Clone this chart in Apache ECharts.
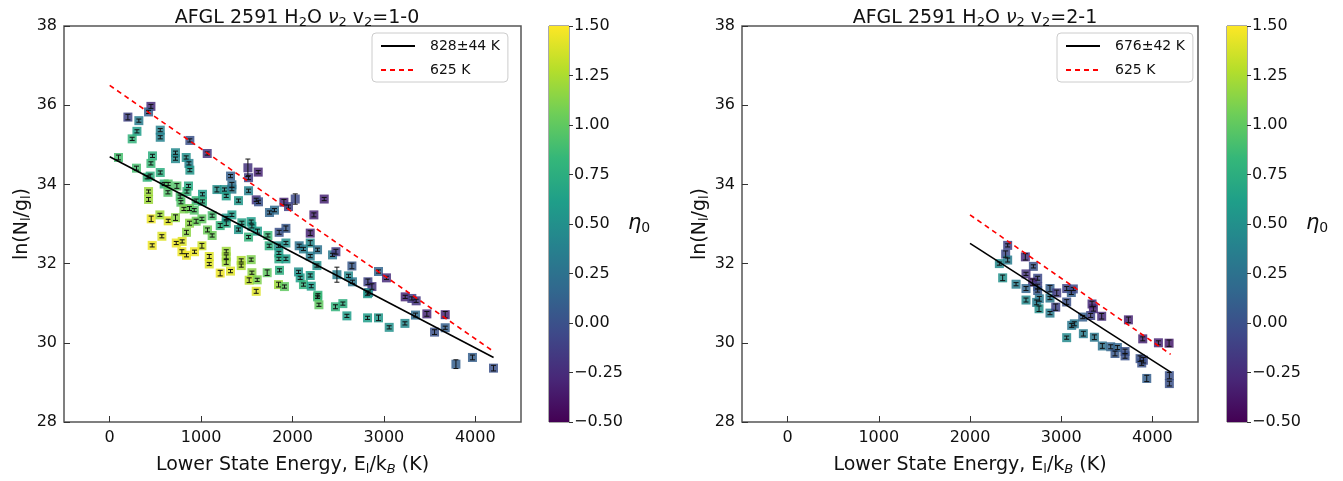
<!DOCTYPE html>
<html>
<head>
<meta charset="utf-8">
<script src="https://cdn.jsdelivr.net/npm/echarts@6/dist/echarts.min.js"></script>
<style>
  html, body { margin: 0; padding: 0; background: #fff; }
  #chart { width: 1343px; height: 481px; }
</style>
</head>
<body>
<div id="chart"></div>
<script>
// points: [E_l/k_B (K), ln(N/g), eta0, error]
var leftPoints = [
  [451, 35.97, -0.25, 0.05], [425, 35.83, 0.10, 0.04], [199, 35.70, -0.10, 0.07], [319, 35.61, 0.35, 0.04],
  [298, 35.34, 0.60, 0.04], [246, 35.15, 0.80, 0.04], [553, 35.37, 0.40, 0.04], [553, 35.19, 0.40, 0.04],
  [877, 35.11, 0.00, 0.04], [1067, 34.78, -0.20, 0.04], [1322, 34.21, 0.10, 0.04], [96, 34.68, 0.90, 0.06],
  [468, 34.72, 0.75, 0.04], [451, 34.53, 0.85, 0.04], [553, 34.30, 0.75, 0.04], [293, 34.41, 0.90, 0.05],
  [410, 34.18, 0.80, 0.04], [443, 34.21, 0.75, 0.05], [720, 34.80, 0.45, 0.04], [720, 34.65, 0.45, 0.04],
  [837, 34.68, 0.50, 0.04], [867, 34.53, 0.40, 0.04], [877, 34.36, 0.55, 0.04], [596, 34.01, 0.80, 0.04],
  [640, 34.01, 0.95, 0.04], [637, 33.80, 0.95, 0.04], [735, 33.96, 0.95, 0.06], [862, 33.96, 0.70, 0.04],
  [845, 33.82, 0.80, 0.04], [771, 33.69, 0.90, 0.04], [779, 33.55, 0.95, 0.04], [1015, 33.75, 0.60, 0.04],
  [946, 33.59, 0.85, 0.04], [1015, 33.57, 0.75, 0.04], [1173, 33.87, 0.50, 0.06], [1256, 33.87, 0.50, 0.04],
  [1337, 33.99, 0.20, 0.06], [425, 33.82, 1.20, 0.04], [425, 33.62, 1.20, 0.05], [812, 33.38, 1.10, 0.04],
  [873, 33.39, 1.05, 0.05], [925, 33.35, 0.95, 0.04], [1121, 33.21, 0.90, 0.04], [1337, 33.23, 0.60, 0.04],
  [454, 33.13, 1.45, 0.07], [549, 33.23, 1.20, 0.04], [640, 33.08, 1.40, 0.04], [720, 33.16, 1.15, 0.07],
  [873, 33.02, 1.15, 0.05], [946, 33.07, 1.05, 0.05], [1009, 33.13, 1.00, 0.04], [840, 32.79, 1.15, 0.05],
  [1070, 32.85, 1.05, 0.05], [1121, 32.71, 1.05, 0.04], [571, 32.69, 1.40, 0.04], [465, 32.46, 1.45, 0.04],
  [728, 32.52, 1.45, 0.04], [793, 32.56, 1.40, 0.04], [1009, 32.45, 1.35, 0.06], [790, 32.30, 1.45, 0.05],
  [840, 32.21, 1.45, 0.04], [928, 32.30, 1.45, 0.04], [1089, 32.18, 1.40, 0.05], [1089, 31.99, 1.40, 0.04],
  [1275, 32.31, 1.20, 0.04], [1275, 32.17, 1.20, 0.05], [1275, 32.04, 1.20, 0.06], [1209, 31.76, 1.45, 0.07],
  [1322, 31.81, 1.40, 0.04], [1209, 32.96, 0.80, 0.05], [1275, 33.02, 0.70, 0.06], [1275, 33.15, 0.55, 0.04],
  [1512, 34.42, -0.20, 0.22], [1519, 34.17, -0.15, 0.05], [1625, 34.31, -0.30, 0.04], [1337, 33.88, 0.30, 0.04],
  [1275, 33.71, 0.60, 0.04], [1409, 33.59, 0.55, 0.04], [1519, 33.84, 0.40, 0.04], [1603, 33.61, -0.20, 0.04],
  [1628, 33.56, 0.00, 0.04], [1748, 33.29, 0.15, 0.04], [1803, 33.35, 0.20, 0.04], [1906, 33.55, -0.30, 0.07],
  [1956, 33.44, -0.10, 0.04], [2030, 33.63, -0.05, 0.13], [2347, 33.63, -0.30, 0.04], [2234, 33.23, -0.30, 0.05],
  [1446, 33.03, 0.65, 0.04], [1548, 33.06, 0.60, 0.04], [1556, 32.94, 0.60, 0.04], [1409, 32.86, 0.55, 0.04],
  [1519, 32.67, 0.80, 0.04], [1617, 32.82, 0.60, 0.05], [1731, 32.71, 0.85, 0.04], [1745, 32.45, 0.75, 0.04],
  [1854, 32.79, 0.00, 0.05], [1928, 32.89, 0.05, 0.06], [2194, 32.77, -0.30, 0.06], [1847, 32.45, 0.50, 0.04],
  [1928, 32.52, 0.50, 0.04], [2073, 32.45, 0.25, 0.04], [2120, 32.37, 0.35, 0.04], [2194, 32.52, 0.45, 0.06],
  [2274, 32.35, 0.25, 0.04], [2194, 32.19, 0.35, 0.04], [2438, 32.22, 0.30, 0.04], [2475, 32.30, -0.15, 0.06],
  [1851, 32.27, 0.60, 0.04], [1851, 32.12, 0.70, 0.04], [1928, 32.12, 0.60, 0.04], [2267, 31.95, 0.50, 0.04],
  [2066, 31.79, 0.50, 0.04], [2084, 31.64, 0.60, 0.04], [2194, 31.70, 0.60, 0.04], [2120, 31.47, 0.80, 0.04],
  [2205, 31.43, 0.60, 0.04], [2278, 31.20, 0.80, 0.04], [2486, 31.72, 0.35, 0.19], [2613, 31.69, 0.45, 0.04],
  [2656, 31.54, 0.30, 0.04], [2650, 31.94, 0.05, 0.07], [2825, 31.54, -0.10, 0.07], [2869, 31.42, -0.20, 0.07],
  [2832, 31.27, 0.30, 0.04], [1439, 32.08, 1.25, 0.04], [1439, 31.95, 1.25, 0.04], [1548, 32.10, 1.10, 0.04],
  [1556, 31.77, 1.15, 0.04], [1526, 31.58, 1.30, 0.06], [1614, 31.59, 1.10, 0.04], [1603, 31.30, 1.40, 0.05],
  [1723, 31.77, 1.00, 0.07], [1847, 31.47, 1.20, 0.06], [1912, 31.42, 1.00, 0.04], [2274, 31.16, 0.85, 0.04],
  [2289, 30.96, 1.00, 0.04], [2470, 30.91, 0.80, 0.05], [2551, 30.99, 0.75, 0.04], [2595, 30.68, 0.60, 0.04],
  [2941, 31.80, 0.15, 0.04], [3028, 31.64, -0.25, 0.04], [3233, 31.16, -0.30, 0.04], [3306, 31.12, -0.15, 0.04],
  [3353, 31.06, -0.20, 0.04], [3346, 30.70, 0.20, 0.05], [3470, 30.73, -0.30, 0.06], [3671, 30.71, -0.30, 0.08],
  [3671, 30.38, 0.10, 0.04], [3554, 30.27, 0.00, 0.06], [2821, 30.63, 0.60, 0.04], [2941, 30.63, 0.55, 0.07],
  [3058, 30.39, 0.50, 0.04], [3230, 30.49, 0.45, 0.04], [3788, 29.46, 0.10, 0.11], [3969, 29.63, 0.10, 0.06],
  [4199, 29.36, 0.00, 0.07], [2821, 31.24, 0.55, 0.04], [1858, 31.83, 0.75, 0.04]
];
var rightPoints = [
  [2413, 32.46, -0.10, 0.04], [2391, 32.24, -0.05, 0.08], [2413, 32.09, 0.35, 0.05], [2322, 32.00, 0.45, 0.04],
  [2607, 32.17, -0.25, 0.08], [2695, 31.93, 0.00, 0.04], [2358, 31.64, 0.50, 0.07], [2614, 31.74, -0.20, 0.04],
  [2742, 31.63, -0.05, 0.05], [2505, 31.48, 0.35, 0.04], [2687, 31.53, -0.30, 0.08], [2742, 31.42, -0.10, 0.06],
  [2742, 31.32, 0.05, 0.04], [2614, 31.37, 0.15, 0.05], [2877, 31.37, 0.10, 0.08], [2877, 31.13, 0.30, 0.04],
  [2951, 31.26, -0.15, 0.07], [3060, 31.37, -0.10, 0.05], [3111, 31.27, 0.10, 0.05], [3133, 31.36, -0.05, 0.04],
  [2614, 31.08, 0.45, 0.05], [2760, 31.11, 0.30, 0.06], [2731, 31.02, 0.35, 0.06], [2757, 30.86, 0.50, 0.07],
  [2877, 30.75, 0.35, 0.04], [2940, 30.90, -0.10, 0.08], [3060, 31.03, 0.00, 0.06], [3338, 30.98, -0.25, 0.07],
  [3353, 30.86, -0.30, 0.06], [3323, 30.69, -0.10, 0.05], [3444, 30.67, -0.25, 0.07], [3236, 30.65, 0.10, 0.04],
  [3115, 30.44, 0.30, 0.05], [3144, 30.48, 0.30, 0.05], [3060, 30.13, 0.45, 0.04], [3243, 30.23, 0.35, 0.06],
  [3364, 30.14, 0.30, 0.06], [3737, 30.58, -0.30, 0.07], [3451, 29.92, 0.25, 0.06], [3543, 29.90, 0.15, 0.05],
  [3616, 29.88, 0.15, 0.05], [3590, 29.73, 0.05, 0.06], [3700, 29.78, 0.00, 0.06], [3700, 29.67, 0.00, 0.06],
  [3894, 30.10, -0.30, 0.05], [4066, 30.00, -0.30, 0.05], [4183, 29.99, -0.35, 0.08], [3865, 29.60, 0.00, 0.07],
  [3901, 29.56, -0.05, 0.07], [3883, 29.49, 0.00, 0.06], [3938, 29.10, 0.10, 0.08], [4186, 29.17, 0.00, 0.08],
  [4186, 28.97, 0.00, 0.06]
];

// fitted / reference lines: [E, ln(N/g)]
var leftFit = [[0, 34.70], [4200, 29.63]];
var leftRef = [[0, 36.50], [4200, 29.78]];
var rightFit = [[2000, 32.51], [4200, 29.26]];
var rightRef = [[2000, 33.23], [4200, 29.71]];

var leftFitName = '828\u00b144 K';
var rightFitName = '676\u00b142 K';
var refName = '625 K';

var xTicks = [0, 1000, 2000, 3000, 4000];
var viridis = ['#440154', '#482878', '#3e4989', '#31688e', '#26828e',
               '#1f9e89', '#35b779', '#6ece58', '#b5de2b', '#fde725'];

var FONT = 'DejaVu Sans';
var frameColor = '#555';

var chart = echarts.init(document.getElementById('chart'));

var subRich = {
  s: { fontSize: 13, fontFamily: FONT, color: '#111', padding: [9, 0, 0, 0] },
  si: { fontSize: 13, fontFamily: FONT, fontStyle: 'italic', color: '#111', padding: [9, 0, 0, 0] },
  i: { fontSize: 19, fontFamily: FONT, fontStyle: 'italic', color: '#111' },
  n: { fontSize: 19, fontFamily: FONT, color: '#111' }
};

function plotX(idx) {
  return {
    gridIndex: idx, type: 'value', min: -500, max: 4500,
    name: 'Lower State Energy, E{s|l}/k{si|B} (K)',
    nameLocation: 'middle', nameGap: 32,
    nameTextStyle: { fontSize: 19, fontFamily: FONT, color: '#111', rich: subRich },
    axisLine: { show: false, onZero: false },
    axisTick: { inside: true, length: 6, customValues: xTicks, lineStyle: { color: '#333' } },
    axisLabel: {
      customValues: xTicks, fontSize: 16, fontFamily: FONT, color: '#111', margin: 8,
      formatter: function (v) { return String(v); }
    },
    splitLine: { show: false }
  };
}
function plotY(idx) {
  return {
    gridIndex: idx, type: 'value', min: 28, max: 38, interval: 2,
    name: 'ln(N{s|l}/g{s|l})', nameLocation: 'middle', nameGap: 31,
    nameTextStyle: { fontSize: 19, fontFamily: FONT, color: '#111', rich: subRich },
    axisLine: { show: false, onZero: false },
    axisTick: { inside: true, length: 6, lineStyle: { color: '#333' } },
    axisLabel: { fontSize: 16, fontFamily: FONT, color: '#111', margin: 7 },
    splitLine: { show: false }
  };
}
function barX(idx) {
  return { gridIndex: idx, type: 'value', min: 0, max: 1, show: false };
}
function barY(idx) {
  return {
    gridIndex: idx, type: 'value', min: -0.5, max: 1.5, interval: 0.25, position: 'right',
    name: '{i|\u03b7}{s|0}', nameLocation: 'middle', nameGap: 41, nameRotate: 0,
    nameTextStyle: { fontSize: 20, fontFamily: FONT, color: '#111', align: 'left', rich: {
      i: { fontSize: 21, fontFamily: FONT, fontStyle: 'italic', color: '#111' },
      s: { fontSize: 14, fontFamily: FONT, color: '#111', padding: [9, 0, 0, 0] }
    } },
    axisLine: { show: false, onZero: false },
    axisTick: { show: true, length: 4, lineStyle: { color: '#333' } },
    axisLabel: {
      fontSize: 16, fontFamily: FONT, color: '#111', margin: 5,
      formatter: function (v) { return v.toFixed(2).replace('-', '\u2212'); }
    },
    splitLine: { show: false }
  };
}

function errRender(params, api) {
  var x = api.value(0), y = api.value(1), e = api.value(3);
  var lo = api.coord([x, y - e]), hi = api.coord([x, y + e]);
  var st = { stroke: '#111', lineWidth: 1 };
  return {
    type: 'group',
    children: [
      { type: 'line', shape: { x1: lo[0], y1: lo[1], x2: hi[0], y2: hi[1] }, style: st },
      { type: 'line', shape: { x1: lo[0] - 2.5, y1: lo[1], x2: lo[0] + 2.5, y2: lo[1] }, style: st },
      { type: 'line', shape: { x1: hi[0] - 2.5, y1: hi[1], x2: hi[0] + 2.5, y2: hi[1] }, style: st }
    ]
  };
}

function barRender(params, api) {
  var p0 = api.coord([0, 1.5]), p1 = api.coord([1, -0.5]);
  var stops = viridis.map(function (c, i) { return { offset: i / (viridis.length - 1), color: c }; });
  return {
    type: 'rect',
    shape: { x: p0[0], y: p0[1], width: p1[0] - p0[0], height: p1[1] - p0[1] },
    style: { fill: new echarts.graphic.LinearGradient(0, 1, 0, 0, stops) }
  };
}

function scatterSeries(idx, pts) {
  return {
    type: 'scatter', xAxisIndex: idx, yAxisIndex: idx, data: pts,
    symbol: 'rect', symbolSize: 9, z: 2,
    itemStyle: { opacity: 0.85 }
  };
}
function errSeries(idx, pts) {
  return {
    type: 'custom', xAxisIndex: idx, yAxisIndex: idx, data: pts,
    renderItem: errRender, z: 3, silent: true
  };
}
function lineSeries(idx, name, pts, color, type) {
  return {
    type: 'line', name: name, xAxisIndex: idx, yAxisIndex: idx, data: pts,
    symbol: 'none', z: 4, silent: true,
    lineStyle: { color: color, width: 1.6, type: type }, itemStyle: { color: color }
  };
}
function cbarSeries(idx) {
  return {
    type: 'custom', xAxisIndex: idx, yAxisIndex: idx, data: [[0]],
    renderItem: barRender, silent: true
  };
}

function legendFor(left, names) {
  return {
    left: left, top: 33, orient: 'vertical', data: names,
    itemWidth: 34, itemHeight: 14, itemGap: 10,
    padding: [6, 8, 5, 8],
    borderColor: '#ccc', borderWidth: 1, borderRadius: 4,
    backgroundColor: 'rgba(255,255,255,0.85)',
    itemStyle: { opacity: 0 },
    textStyle: { fontSize: 14, fontFamily: FONT, color: '#111', padding: [0, 20, 0, 10] }
  };
}

function titleFor(x, text) {
  return {
    left: x, top: 2, textAlign: 'center',
    text: text,
    textStyle: { fontSize: 19, fontFamily: FONT, fontWeight: 'normal', color: '#111', rich: subRich }
  };
}

chart.setOption({
  animation: false,
  backgroundColor: '#fff',
  title: [
    titleFor(292, '{n|AFGL 2591 H}{s|2}{n|O }{i|\u03bd}{s|2}{n| v}{s|2}{n|=1-0}'),
    titleFor(970, '{n|AFGL 2591 H}{s|2}{n|O }{i|\u03bd}{s|2}{n| v}{s|2}{n|=2-1}')
  ],
  legend: [
    legendFor(372, [leftFitName, refName]),
    legendFor(1057, [rightFitName, refName])
  ],
  grid: [
    { left: 64, top: 26, width: 457, height: 396, show: true, borderColor: frameColor, borderWidth: 1.5 },
    { left: 549, top: 26, width: 20, height: 396, show: true, borderColor: frameColor, borderWidth: 1 },
    { left: 742, top: 26, width: 456, height: 396, show: true, borderColor: frameColor, borderWidth: 1.5 },
    { left: 1227, top: 26, width: 20, height: 396, show: true, borderColor: frameColor, borderWidth: 1 }
  ],
  xAxis: [plotX(0), barX(1), plotX(2), barX(3)],
  yAxis: [plotY(0), barY(1), plotY(2), barY(3)],
  visualMap: [{
    type: 'continuous', show: false, min: -0.5, max: 1.5, dimension: 2,
    seriesIndex: [0, 5], inRange: { color: viridis }
  }],
  series: [
    scatterSeries(0, leftPoints),
    errSeries(0, leftPoints),
    lineSeries(0, leftFitName, leftFit, '#000', 'solid'),
    lineSeries(0, refName, leftRef, '#ff0000', [5, 4]),
    cbarSeries(1),
    scatterSeries(2, rightPoints),
    errSeries(2, rightPoints),
    lineSeries(2, rightFitName, rightFit, '#000', 'solid'),
    lineSeries(2, refName, rightRef, '#ff0000', [5, 4]),
    cbarSeries(3)
  ]
});
</script>
</body>
</html>
